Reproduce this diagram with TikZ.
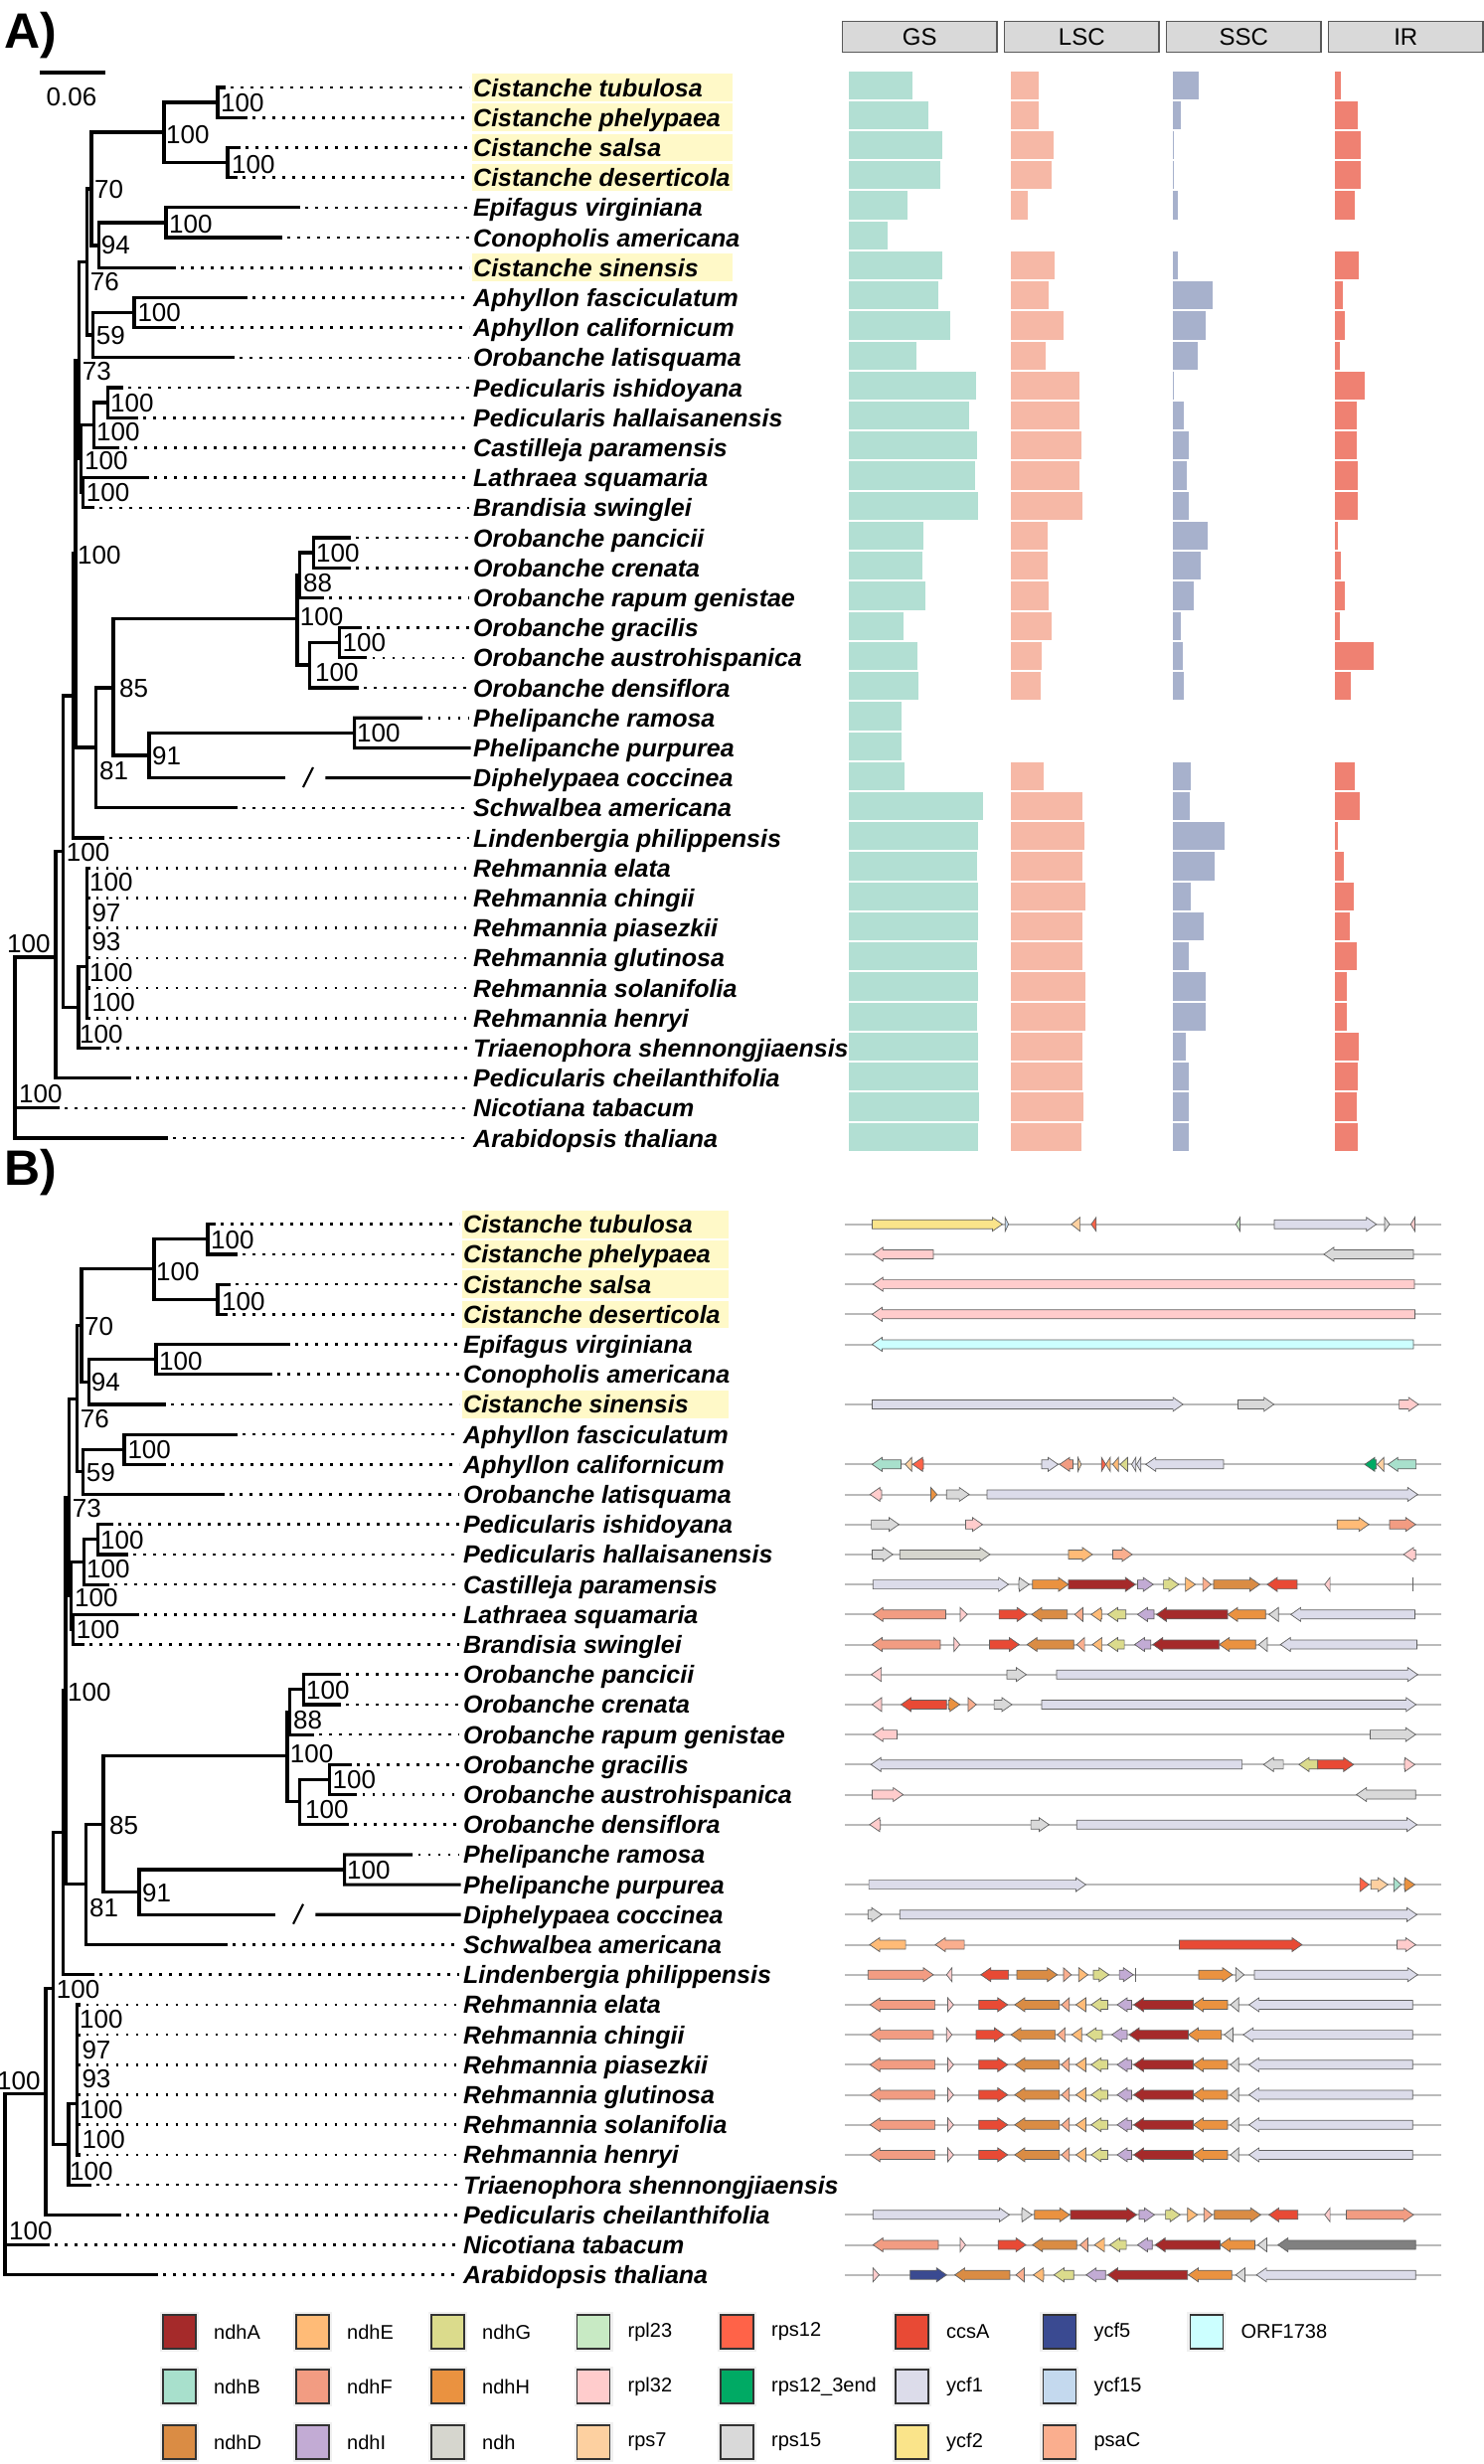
\documentclass[tikz,border=0pt]{standalone}
\usepackage{fontspec}
\setmainfont{Liberation Sans}
\usetikzlibrary{calc}

% bar and box colours
\definecolor{gsgreen}{HTML}{B2DFD3}
\definecolor{lscpink}{HTML}{F6B8A6}
\definecolor{sscblue}{HTML}{A7B1CC}
\definecolor{irred}{HTML}{EF8172}
\definecolor{boxyellow}{HTML}{FFF9C8}
\definecolor{headgrey}{HTML}{D9D9D9}
% gene colours
\definecolor{ndhA}{HTML}{A52A2A}
\definecolor{ndhB}{HTML}{A8E0CC}
\definecolor{ndhD}{HTML}{DA8C44}
\definecolor{ndhE}{HTML}{FFBB77}
\definecolor{ndhF}{HTML}{F29C82}
\definecolor{ndhG}{HTML}{DBDB8C}
\definecolor{ndhH}{HTML}{EA9240}
\definecolor{ndhI}{HTML}{C2ABD4}
\definecolor{ndh}{HTML}{D6D6CE}
\definecolor{rpl23}{HTML}{C8EAC4}
\definecolor{rpl32}{HTML}{FFCCCC}
\definecolor{rps7}{HTML}{FDD0A0}
\definecolor{rps12}{HTML}{FF6348}
\definecolor{rps12end}{HTML}{00AA64}
\definecolor{rps15}{HTML}{D9D9D9}
\definecolor{ccsA}{HTML}{E84A35}
\definecolor{ycf1}{HTML}{DCDCEA}
\definecolor{ycf2}{HTML}{FAE48A}
\definecolor{ycf5}{HTML}{3A4A91}
\definecolor{ycf15}{HTML}{C4D9EE}
\definecolor{psaC}{HTML}{FAAE8E}
\definecolor{ORF1738}{HTML}{CCFFFF}
\definecolor{ndhgrey}{HTML}{808080}

\tikzset{
  branch/.style={line width=3.2pt, line cap=rect, line join=miter},
  leader/.style={line width=2.6pt, dash pattern=on 2.6pt off 7.4pt, shorten >=4pt},
  species/.style={anchor=west, inner sep=0pt, text height=18pt, text depth=0pt,
    font=\fontsize{25}{25}\selectfont\bfseries\itshape},
  boot/.style={anchor=west, inner sep=0pt, text height=18.6pt, text depth=0pt,
    font=\fontsize{26}{26}\selectfont},
  hilite/.style={fill=boxyellow},
  header/.style={draw=black!65, fill=headgrey, line width=1.2pt, minimum width=155.5pt,
    minimum height=31pt, anchor=west, inner sep=0pt, outer sep=0pt, font=\fontsize{24}{24}\selectfont},
  bar/.style={draw=white, line width=0.8pt},
  backbone/.style={draw=black!27, line width=2pt},
  genebox/.style={draw=black!62, line width=0.7pt, line join=miter},
  swatch/.style={draw=black!80, line width=1.5pt},
  legtext/.style={anchor=west, inner sep=0pt, font=\fontsize{20}{20}\selectfont},
  panel/.style={anchor=west, inner sep=0pt, font=\fontsize{50}{50}\selectfont\bfseries}
}

% one gene arrow: y, tail x, head x, colour
\newcommand{\gene}[4]{%
  \pgfmathsetmacro{\gnL}{#3-#2}%
  \pgfmathsetmacro{\gnH}{abs(\gnL)<10 ? \gnL : (\gnL>0 ? 10 : -10)}%
  \pgfmathsetmacro{\gnB}{#3-\gnH}%
  \draw[genebox,fill=#4] (#2,#1-4.5) -- (\gnB,#1-4.5) -- (\gnB,#1-7) -- (#3,#1)
    -- (\gnB,#1+7) -- (\gnB,#1+4.5) -- (#2,#1+4.5) -- cycle;}

% one gene row: y, list of tail/head/colour
\newcommand{\genemap}[2]{%
  \draw[backbone] (850,#1) -- (1450,#1);
  \edef\genelist{#2}%
  \foreach \ga/\gz/\gc in \genelist {\gene{#1}{\ga}{\gz}{\gc}}}

\newcommand{\rehlist}{940.6/875.3/ndhF, 953.5/959.3/rpl32, 984.7/1013.8/ccsA, 1065.8/1020.9/ndhD,
  1075.8/1067.9/psaC, 1092.4/1082.4/ndhE, 1114.4/1097.8/ndhG, 1138.5/1124/ndhI,
  1200.5/1140.6/ndhA, 1235/1200.5/ndhH, 1246.2/1237.9/rps15, 1421.3/1256.6/ycf1}

% the tree with its labels (drawn for both panels); #1 = right edge of the yellow boxes
\newcommand{\phylotree}[1]{%
  \foreach \i in {1,2,3,4,7}
    \fill[hilite] (475,{74.2+30.2*(\i-1)}) rectangle (#1,{101.8+30.2*(\i-1)});
  \foreach \sp [count=\i] in {Cistanche tubulosa, Cistanche phelypaea, Cistanche salsa,
      Cistanche deserticola, Epifagus virginiana, Conopholis americana, Cistanche sinensis,
      Aphyllon fasciculatum, Aphyllon californicum, Orobanche latisquama, Pedicularis ishidoyana,
      Pedicularis hallaisanensis, Castilleja paramensis, Lathraea squamaria, Brandisia swinglei,
      Orobanche pancicii, Orobanche crenata, Orobanche rapum genistae, Orobanche gracilis,
      Orobanche austrohispanica, Orobanche densiflora, Phelipanche ramosa, Phelipanche purpurea,
      Diphelypaea coccinea, Schwalbea americana, Lindenbergia philippensis, Rehmannia elata,
      Rehmannia chingii, Rehmannia piasezkii, Rehmannia glutinosa, Rehmannia solanifolia,
      Rehmannia henryi, Triaenophora shennongjiaensis, Pedicularis cheilanthifolia,
      Nicotiana tabacum, Arabidopsis thaliana}
    \node[species] (t\i) at (476,{88+30.2*(\i-1)}) {\sp};
  % dotted leaders
  \foreach \tx [count=\i] in {225,247,240,237,300,282,175,247,175,234,122,137,118,148,93,
      351,351,324,362,367.5,359,423.5,0,0,237,103,89.5,89.5,89.5,89.5,89.5,89.5,100,130,58,167}
    {\ifdim\tx pt>0pt \draw[leader] (\tx+7,{88+30.2*(\i-1)}) -- (t\i.west); \fi}
  % Cistanche clade
  \draw[branch] (225,88) -- (219,88) -- (219,118.2) -- (247,118.2);
  \draw[branch] (240,148.4) -- (229,148.4) -- (229,178.6) -- (237,178.6);
  \draw[branch] (219,103) -- (165,103) -- (165,163.5) -- (229,163.5);
  \draw[branch] (165,133) -- (92,133) -- (92,247) -- (99.3,247);
  % Epifagus, Conopholis, C. sinensis
  \draw[branch] (300,208.8) -- (167,208.8) -- (167,239) -- (282,239);
  \draw[branch] (167,224) -- (99.3,224) -- (99.3,269.2) -- (175,269.2);
  % Aphyllon, O. latisquama
  \draw[branch] (247,299.4) -- (135,299.4) -- (135,329.6) -- (175,329.6);
  \draw[branch] (135,314.5) -- (93.3,314.5) -- (93.3,359.8) -- (234,359.8);
  \draw[branch] (92,190) -- (87.5,190) -- (87.5,337) -- (93.3,337);
  \draw[branch] (87.5,263.5) -- (79.3,263.5) -- (79.3,461.7) -- (81.5,461.7);
  % Pedicularis, Castilleja, Lathraea, Brandisia
  \draw[branch] (122,390) -- (108.3,390) -- (108.3,420.2) -- (137,420.2);
  \draw[branch] (108.3,405) -- (94.3,405) -- (94.3,450.4) -- (118,450.4);
  \draw[branch] (148,480.6) -- (83.5,480.6) -- (83.5,510.8) -- (93,510.8);
  \draw[branch] (94.3,427.7) -- (81.5,427.7) -- (81.5,495.7) -- (83.5,495.7);
  % backbone
  \draw[branch] (79.3,362.6) -- (76,362.6) -- (76,752) -- (96.5,752);
  \draw[branch] (76,557) -- (73.3,557) -- (73.3,843) -- (103,843);
  \draw[branch] (73.3,700) -- (63.3,700) -- (63.3,1013.5) -- (79,1013.5);
  \draw[branch] (63.3,856.7) -- (56,856.7) -- (56,1084.6) -- (130,1084.6);
  \draw[branch] (56,963) -- (15,963) -- (15,1145) -- (167,1145);
  \draw[branch] (15,1114.8) -- (58,1114.8);
  % Rehmannia, Triaenophora
  \draw[branch] (87.5,972.7) -- (79,972.7) -- (79,1054.4) -- (100,1054.4);
  \draw[branch] (87.5,873.2) -- (87.5,1024.2);
  \foreach \y in {873.2,903.4,933.6,963.8,994,1024.2}
    \draw[branch] (87.5,\y) -- (89.5,\y);
  % Orobanche
  \draw[branch] (96.5,692) -- (114,692);
  \draw[branch] (299,622.7) -- (114,622.7) -- (114,760) -- (150,760);
  \draw[branch] (301.7,578.7) -- (299,578.7) -- (299,669) -- (311.6,669);
  \draw[branch] (315.4,556) -- (301.7,556) -- (301.7,601.4) -- (324,601.4);
  \draw[branch] (351,541) -- (315.4,541) -- (315.4,571.2) -- (351,571.2);
  \draw[branch] (341.7,646.7) -- (311.6,646.7) -- (311.6,692) -- (359,692);
  \draw[branch] (362,631.6) -- (341.7,631.6) -- (341.7,661.8) -- (367.5,661.8);
  % Phelipanche, Diphelypaea, Schwalbea
  \draw[branch] (356.6,737.3) -- (150,737.3) -- (150,782.6) -- (285,782.6);
  \draw[branch,shorten >=4pt] (423.5,722.2) -- (356.6,722.2) -- (356.6,752.4) -- (t23.west);
  \draw[branch,shorten >=4pt] (329,782.6) -- (t24.west);
  \draw[line width=2.2pt] (305,792) -- (315,772);
  \draw[branch] (96.5,692) -- (96.5,812.8) -- (237,812.8);
  % bootstrap values
  \foreach \bx/\by/\bv [count=\i] in {222/103/100, 233/165/100, 167/135/100, 95/190/70,
      170/225/100, 101.7/246/94, 90.7/283/76, 138.3/314/100, 96.7/337/59, 82.7/373/73,
      111/405/100, 97/434/100, 85/463/100, 86.7/495/100, 78/558/100, 318/556/100,
      305/586/88, 301.7/620/100, 344.5/646/100, 317/676/100, 120/692/85, 359/737/100,
      153/760/91, 100/775/81, 66.7/857/100, 90/887/100, 92.3/918/97, 92.3/947/93,
      90/978/100, 92.3/1008/100, 80/1040/100, 7/949/100, 19/1100/100}
    \node[boot] (b\i) at (\bx,\by) {\bv};
}

\begin{document}
\begin{tikzpicture}[x=1pt,y=-1pt]
\useasboundingbox (0,0) rectangle (1492,2479);

% ---------- panel A ----------
\node[panel] (pa) at (4,36) {A)};
\draw[line width=3.5pt] (40,73) -- (106,73);
\node[inner sep=0pt, font=\fontsize{26}{26}\selectfont] (scale) at (72,98) {0.06};
\begin{scope}[name prefix=A-]
  \phylotree{737}
\end{scope}

% column headers
\foreach \h [count=\k] in {GS,LSC,SSC,IR}
  \node[header] (h\h) at ({847.5+163*(\k-1)},37.3) {\h};

% bars
\foreach \be [count=\i] in {918,934,948.5,946.4,913.6,893.2,948.5,944.4,956,922.3,982.6,975,983,981,
    984.7,929,928,931.5,909.4,923.6,924.4,907,907.8,910.7,989.3,984.7,983.5,983.9,983.9,983.5,
    983.9,983.5,984.7,984.7,985,983.9}
  {\ifdim\be pt>0pt \filldraw[bar,fill=gsgreen] (853.7,{70.9+30.23*(\i-1)}) rectangle (\be,{100.1+30.23*(\i-1)}); \fi}
\foreach \be [count=\i] in {1045,1045,1060.4,1058.7,1034.6,0,1061.6,1055,1070,1052.5,1086.6,1086.6,
    1088.6,1086.6,1089,1054,1054,1055.8,1058.7,1048.3,1047,0,0,1050,1089,1091.6,1089,1092,1089,
    1089,1092,1092,1089,1089.5,1090.7,1088.2}
  {\ifdim\be pt>0pt \filldraw[bar,fill=lscpink] (1016.7,{70.9+30.23*(\i-1)}) rectangle (\be,{100.1+30.23*(\i-1)}); \fi}
\foreach \be [count=\i] in {1205.9,1188,1181.4,1181.4,1185.1,0,1185.1,1220.5,1213,1205.5,1181,1191.4,
    1196,1194.7,1196,1215.5,1208.8,1201,1188,1190.5,1191.4,0,0,1198.4,1197.2,1232,1222,1198,1211,
    1196,1213.4,1213.4,1193.8,1196.3,1196.8,1196}
  {\ifdim\be pt>0pt \filldraw[bar,fill=sscblue] (1179.7,{70.9+30.23*(\i-1)}) rectangle (\be,{100.1+30.23*(\i-1)}); \fi}
\foreach \be [count=\i] in {1349.8,1366.4,1369.7,1369.7,1363.1,0,1367.2,1351,1353,1348,1373.5,1365,
    1365.6,1366.4,1366.4,1346,1349,1353.5,1348,1382.2,1359,0,0,1363.1,1368,1346.5,1352.3,1362.6,
    1358,1365.6,1355,1355,1367.2,1366,1365,1366}
  {\ifdim\be pt>0pt \filldraw[bar,fill=irred] (1342.7,{70.9+30.23*(\i-1)}) rectangle (\be,{100.1+30.23*(\i-1)}); \fi}

% ---------- panel B ----------
\node[panel] (pb) at (4,1180) {B)};
\begin{scope}[shift={(-10,1143.7)}, name prefix=B-]
  \phylotree{743}
\end{scope}

% gene maps
\genemap{1231.7}{877.4/1008.4/ycf2, 1011.3/1014.6/ycf15, 1086.6/1077.8/rps7, 1102.8/1097.8/rps12,
  1247.5/1243.3/rpl23, 1282/1384.7/ycf1, 1393/1398/rps15, 1423.4/1419.2/rpl32}
\genemap{1261.9}{939/878.3/rpl32, 1422/1331.9/rps15}
\genemap{1292.1}{1423/878.3/rpl32}
\genemap{1322.3}{1423.4/877.4/rpl32}
\genemap{1352.5}{1422/877.4/ORF1738}
\genemap{1412.9}{877.4/1190.1/ycf1, 1245.4/1281.6/rps15, 1407.6/1427.1/rpl32}
\genemap{1473.3}{906.5/877.4/ndhB, 917.3/910.7/rps7, 929/918.2/rps12, 1047.9/1064.5/ycf1,
  1079.5/1066/ndhF, 1084.5/1087.8/rps7, 1108.2/1112.5/rps12, 1116.9/1112.5/ndhE,
  1125.2/1119.4/ndhE, 1134.4/1126.9/ndhG, 1142.7/1138.5/ycf1, 1147.7/1143.5/ycf1,
  1230.9/1152.7/ycf1, 1384.7/1373/rps12end, 1392.2/1385.5/rps7, 1424.6/1396.3/ndhB}
\genemap{1503.5}{887/875.3/rpl32, 936.5/942.7/ndhH, 952.3/975.1/rps15, 993/1426.3/ycf1}
\genemap{1533.7}{876.6/904.4/rps15, 971.4/988.4/rpl32, 1345.2/1377.2/ndhE, 1398/1424.2/ndhF}
\genemap{1563.9}{877.4/898.2/rps15, 905.3/995.9/ndh, 1074.9/1099/ndhE, 1119.4/1139/psaC,
  1424.2/1412.1/rpl32}
\genemap{1594.1}{878.3/1014.6/ycf1, 1025/1035.4/rps15, 1038.8/1074.9/ndhH, 1074.9/1142.3/ndhA,
  1144.4/1160.2/ndhI, 1170.6/1185.9/ndhG, 1192.6/1202.6/ndhE, 1210.1/1218.4/psaC,
  1220.9/1267.4/ndhD, 1304.9/1274.9/ccsA, 1338.1/1332.7/rpl32}
\draw[genebox] (1421.3,1587.1) -- (1421.3,1601.1);
\genemap{1624.3}{951.4/878.3/ndhF, 966/973.1/rpl32, 1005.1/1033.3/ccsA, 1073.7/1037.9/ndhD,
  1089.5/1081.2/psaC, 1108.6/1097.8/ndhE, 1132.7/1114.4/ndhG, 1161/1144.4/ndhI,
  1235/1163.5/ndhA, 1273.3/1235/ndhH, 1286.2/1276.6/rps15, 1423.4/1298.6/ycf1}
\genemap{1654.5}{946/877.4/ndhF, 959.8/965.6/rpl32, 995.5/1025.4/ccsA, 1080.3/1033.3/ndhD,
  1091.1/1083.2/psaC, 1108.6/1099/ndhE, 1131.1/1114.4/ndhG, 1157.7/1141.5/ndhI,
  1226.7/1159.8/ndhA, 1263.3/1226.7/ndhH, 1274.9/1266.2/rps15, 1425.5/1288.2/ycf1}
\genemap{1684.7}{886.6/876.6/rpl32, 1013/1032.5/rps15, 1062.9/1426.3/ycf1}
\genemap{1714.9}{887/877.4/rpl32, 952.3/906.5/ccsA, 954.3/965.6/ndhH, 973.9/982.2/psaC,
  1000.1/1018/rps15, 1047.9/1424.6/ycf1}
\genemap{1745.1}{902.4/878.3/rpl32, 1378.5/1424.2/rps15}
\genemap{1775.3}{1249.6/876.2/ycf1, 1291.1/1271.2/rps15, 1325.7/1306.9/ndhG, 1325.7/1361.8/ccsA,
  1413/1423.4/rpl32}
\genemap{1805.5}{877.4/908.6/rpl32, 1424.2/1364.7/rps15}
\genemap{1835.7}{885.7/874.9/rpl32, 1037.1/1055.4/rps15, 1083.2/1425.5/ycf1}
\genemap{1896.1}{874.1/1092.4/ycf1, 1368.1/1377.2/rps12, 1379.3/1396.3/rps7, 1402.2/1409.7/ndhB,
  1413/1423.4/ndhH}
\genemap{1926.3}{873.3/887/rps15, 905.3/1425.5/ycf1}
\genemap{1956.5}{911.1/874.9/ndhE, 970.1/941/psaC, 1186.4/1309.9/ccsA, 1405.5/1424.2/rpl32}
\genemap{1986.7}{873.3/939/ndhF, 957.7/952.3/rpl32, 1014.6/986.8/ccsA, 1023/1063.7/ndhD,
  1069.9/1077.8/psaC, 1085.3/1094.5/ndhE, 1099.9/1115.7/ndhG, 1126.1/1140.2/ndhI,
  1205.9/1240/ndhH, 1243.3/1251.6/rps15, 1262/1426.3/ycf1}
\draw[genebox] (1142.3,1979.7) -- (1142.3,1993.7);
\genemap{2016.9}{\rehlist}
\genemap{2047.1}{939/875.3/ndhF, 952.3/957.7/rpl32, 982/1010.5/ccsA, 1061.6/1017.1/ndhD,
  1071.6/1063.7/psaC, 1088.2/1078.3/ndhE, 1109/1092.8/ndhG, 1134/1118.6/ndhI,
  1195.5/1136/ndhA, 1228.8/1195.5/ndhH, 1240.4/1231.7/rps15, 1421.3/1250.8/ycf1}
\foreach \ry in {2077.3,2107.5,2137.7,2167.9}
  {\genemap{\ry}{\rehlist}}
\genemap{2228.3}{878.3/1015.5/ycf1, 1027.9/1038.3/rps15, 1040.8/1076.2/ndhH, 1077/1143.5/ndhA,
  1146/1161.4/ndhI, 1172.6/1187.2/ndhG, 1194.7/1204.7/ndhE, 1211.3/1219.6/psaC,
  1221.7/1268.3/ndhD, 1305.7/1276.6/ccsA, 1338.1/1332.7/rpl32, 1354.4/1422.1/ndhF}
\genemap{2258.5}{944/878.3/ndhF, 966/971.4/rpl32, 1004.2/1032.1/ccsA, 1083.2/1038.8/ndhD,
  1094.5/1086.6/psaC, 1111.1/1101.1/ndhE, 1133.1/1116.5/ndhG, 1159.3/1144.4/ndhI,
  1227.5/1162.2/ndhA, 1262.5/1227.5/ndhH, 1274.5/1265.4/rps15, 1424.2/1285.7/ndhgrey}
\genemap{2288.7}{878.3/884.5/rpl32, 915.7/952.3/ycf5, 1015.9/960.6/ndhD, 1030.4/1022.1/psaC,
  1050/1039.6/ndhE, 1080.3/1060.4/ndhG, 1112.3/1092.8/ndhI, 1194.7/1114.4/ndhA,
  1239.2/1195.5/ndhH, 1252.5/1243.3/rps15, 1424.2/1264.1/ycf1}

% legend
\foreach \c/\t/\lx/\ly [count=\i] in {ndhA/ndhA/164/2346, ndhE/ndhE/298/2346, ndhG/ndhG/434/2346,
    rpl23/rpl23/580.5/2346, rps12/rps12/725/2346, ccsA/ccsA/901/2346, ycf5/ycf5/1049.4/2346,
    ORF1738/ORF1738/1197.3/2346, ndhB/ndhB/164/2401, ndhF/ndhF/298/2401, ndhH/ndhH/434/2401,
    rpl32/rpl32/580.5/2401, rps12end/rps12\_3end/725/2401, ycf1/ycf1/901/2401,
    ycf15/ycf15/1049.4/2401, ndhD/ndhD/164/2457, ndhI/ndhI/298/2457, ndh/ndh/434/2457,
    rps7/rps7/580.5/2457, rps15/rps15/725/2457, ycf2/ycf2/901/2457, psaC/psaC/1049.4/2457}
  {\fill[black!6] (\lx-3,\ly-20) rectangle (\lx+36,\ly+20);
   \draw[swatch,fill=\c] (\lx,\ly-17) rectangle (\lx+33,\ly+17);
   \node[legtext] (lg\i) at (\lx+51,\ly) {\t};}
\end{tikzpicture}
\end{document}
